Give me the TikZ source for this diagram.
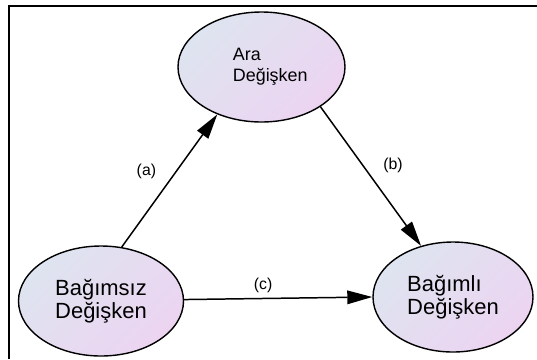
\documentclass[tikz,border=0pt]{standalone}
\usepackage{fontspec}
\setmainfont{Liberation Sans}
\usepackage{tikz}
\usetikzlibrary{arrows.meta,positioning,shapes.geometric}
\definecolor{fillA}{RGB}{222,228,240}
\definecolor{fillB}{RGB}{236,212,241}
\tikzset{var/.style={draw,ellipse,line width=0.8pt,inner sep=0pt,align=left,
    top color=fillA,bottom color=fillB,shading angle=45,
    minimum width=3.3cm,minimum height=2.2cm,font=\fontsize{12.5}{11.5}\selectfont}}
\tikzstyle{lbl}=[font=\fontsize{9}{10}\selectfont,inner sep=4.5pt]

\begin{document}
\begin{tikzpicture}[-{Triangle[length=0.5cm,width=0.27cm]},line width=0.85pt,auto]
    \useasboundingbox (0,0) rectangle (10.74,-7.18);
    \draw[-,line width=1.1pt] (0.18,-7.18) -- (0.18,-0.114) -- (10.74,-0.114);
    \node (bagimsiz) [var] at (2.02,-6.02) {Bağımsız\\Değişken};
    \node (ara) [var,minimum width=3.34cm,font=\fontsize{10.2}{12}\selectfont] at (5.23,-1.34)
        {\hspace*{0.35cm}Ara\\\hspace*{0.35cm}Değişken};
    \node (bagimli) [var,minimum width=3.2cm] at (9.06,-5.94) {Bağımlı\\Değişken};
    \draw (bagimsiz.69) -- node[lbl,pos=0.45] {(a)} (ara.227);
    \draw (ara.326) -- node[lbl,pos=0.54] {(b)} (bagimli.122);
    \draw (bagimsiz.1) -- node[lbl,pos=0.42,inner sep=3pt] {(c)} (bagimli.180);
\end{tikzpicture}
\end{document}
